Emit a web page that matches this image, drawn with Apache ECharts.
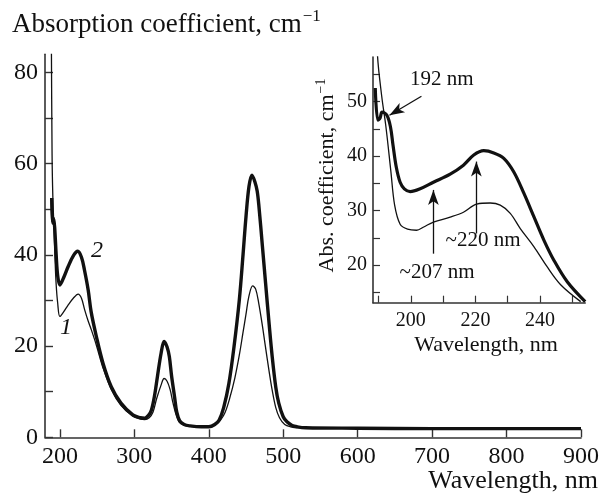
<!DOCTYPE html>
<html><head><meta charset="utf-8">
<script src="https://cdn.jsdelivr.net/npm/echarts@6/dist/echarts.min.js"></script>
<style>html,body{margin:0;padding:0;background:#fff}#c{width:602px;height:494px}</style>
</head><body><div id="c"></div>
<script>
// ---- Main panel data (wavelength nm, absorption coefficient cm^-1) ----
const mainWl2 = [189,190,191.5,193,195,197,200,205,211,218,224,229,233,238,242,249,258,269,282,298,308,314,319,323,327,331,336,340,344,347,350,354,357,361,367,375,390,400,408,414,420,427,434,441,446,450,454,458,462,465,467.4,472,476.3,481,485.2,490,494,500,505,512,519,530,600,700,800,900];
const mainAbs2 = [52.5,47,48,46,40,35.5,33.4,35,37.4,39.8,40.8,39.5,36.7,32.3,27.5,22.1,16.2,11.1,7.5,4.9,4.3,4.2,4.8,6.0,9,13.3,18.5,21.0,19.8,17.7,13.5,8.9,5.5,3.6,2.8,2.5,2.3,2.3,2.8,3.8,6.5,11.8,20,30.1,40,48.4,55,57.5,56,54,50.6,42,33.8,25,17.7,11,7.5,4.5,3.4,2.6,2.3,2.1,2.0,1.9,1.9,1.9];
const mainWl1 = [188.3,189.5,190.5,192,193.5,195,197,200,205,211,218,224.5,229,233.4,238,242.4,249,258,269,282,298,308,314,320,325,330,336,340,344,348,352,356,360,367,375,400,410,416,422,428,435,441,446,450,454,459,463,467,472,476,481,485,490,495,502,510,520,600,700,800,900];
const mainAbs1 = [95,62,53,46,39,33.5,29.5,26.5,27.5,29,30.5,31.4,30.5,27.9,25.5,23.5,20.2,15.2,10.5,7.0,4.6,4.0,3.9,4.3,5.5,8.5,11.5,12.9,12.3,10.5,7.5,5,3.4,2.6,2.4,2.2,2.8,3.8,5.5,8.5,13,18,23,27,31,33.2,32.5,29.5,24.5,20,14.5,10.5,6.5,4.3,2.8,2.3,2.1,2.0,1.9,1.9,1.9];
const mainXTicks = [200,300,400,500,600,700,800,900];
const mainYTicks = [0,10,20,30,40,50,60,70,80];
const mainYLabels = [0,20,40,60,80];

// ---- Inset data ----
const insetWl2 = [189,189.8,190.5,191.1,192.6,193.7,194.5,195.5,196.7,198,199.8,202.9,207,212.2,216.3,219.5,222.6,225.7,228.8,231.9,235,238.1,241.2,244.3,248.5,254];
const insetAbs2 = [52.5,46.6,47.0,48.1,47.5,45.4,42,38,35.2,34,33.5,34,35.2,36.7,38.35,40.2,41,40.6,39.6,37.1,33.2,28.9,24.6,20.9,16.9,13.3];
const insetWl1 = [188.6,189.7,191,192.3,193.8,195,196.7,199,201.8,204,207,212.2,216.3,220.4,224.6,227.7,230.8,233.9,238.1,242.2,246.4,252.6];
const insetAbs1 = [75,58.4,51,45.4,37.4,31,27.5,26.6,26.4,27,27.9,28.8,29.7,31.2,31.4,31,29.5,26.7,23.4,19.7,16.4,13.3];
const insetXTicks = [190,200,210,220,230,240,250];
const insetXLabels = [200,220,240];
const insetYTicks = [15,20,25,30,35,40,45,50,55];
const insetYLabels = [20,30,40,50];

// annotation arrows in inset data coords: [from, to]
const arrow192 = [[203.3,51.0],[193.4,47.5]];
const arrow207 = [[207.0,22.1],[207.0,33.8]];
const arrow220 = [[220.3,25.8],[220.3,39.0]];

const pairs = (xs, ys) => xs.map((x, i) => [x, ys[i]]);
const SERIF = 'Liberation Serif, Times New Roman, serif';
const INK = '#111';

const chart = echarts.init(document.getElementById('c'), null, {renderer: 'canvas'});

function axisCommon() {
  return {
    axisLine: {show: true, lineStyle: {color: '#333', width: 1.6}},
    splitLine: {show: false}
  };
}

const mc = document.createElement('canvas').getContext('2d');
function tw(text, size) { mc.font = size + 'px ' + SERIF; return mc.measureText(text).width; }

const titleFs = 27, supFs = 17;
const t1 = 'Absorption coefficient, cm';
const t1w = tw(t1, titleFs);
const insT = 'Abs. coefficient, cm';
const insFs = 22, insSup = 14;
const insTw = tw(insT, insFs), insSupW = tw('−1', insSup);
const insTot = insTw + insSupW;

const arrowLine = (pts) => [{coord: pts[0], symbol: 'none'}, {coord: pts[1], symbol: 'arrow', symbolSize: [8, 15]}];

const option = {
  animation: false,
  backgroundColor: '#fff',
  grid: [
    {left: 45, right: 18.4, top: 54.3, bottom: 56.7},
    {left: 373, right: 16.8, top: 57, bottom: 191.3}
  ],
  xAxis: [
    Object.assign(axisCommon(), {
      type: 'value', gridIndex: 0, min: 180, max: 900,
      axisTick: {show: true, inside: true, length: 8, lineStyle: {color: '#333', width: 1.4}, customValues: mainXTicks},
      axisLabel: {fontFamily: SERIF, fontSize: 24, color: INK, margin: 7, customValues: mainXTicks}
    }),
    Object.assign(axisCommon(), {
      type: 'value', gridIndex: 1, min: 188.3, max: 254,
      axisTick: {show: true, inside: true, length: 7, lineStyle: {color: '#333', width: 1.2}, customValues: insetXTicks},
      axisLabel: {fontFamily: SERIF, fontSize: 20, color: INK, margin: 8, customValues: insetXLabels}
    })
  ],
  yAxis: [
    Object.assign(axisCommon(), {
      type: 'value', gridIndex: 0, min: 0, max: 84,
      axisTick: {show: true, inside: true, length: 8, lineStyle: {color: '#333', width: 1.4}, customValues: mainYTicks},
      axisLabel: {fontFamily: SERIF, fontSize: 24, color: INK, margin: 7, customValues: mainYLabels}
    }),
    Object.assign(axisCommon(), {
      type: 'value', gridIndex: 1, min: 13.1, max: 58.2,
      axisTick: {show: true, inside: true, length: 7, lineStyle: {color: '#333', width: 1.2}, customValues: insetYTicks},
      axisLabel: {fontFamily: SERIF, fontSize: 20, color: INK, margin: 6, customValues: insetYLabels}
    })
  ],
  series: [
    {type: 'line', xAxisIndex: 0, yAxisIndex: 0, data: pairs(mainWl1, mainAbs1), showSymbol: false, smooth: 0.35,
     lineStyle: {color: INK, width: 1.3}, clip: true},
    {type: 'line', xAxisIndex: 0, yAxisIndex: 0, data: pairs(mainWl2, mainAbs2), showSymbol: false, smooth: 0.35,
     lineStyle: {color: INK, width: 3.4}, clip: true},
    {type: 'line', xAxisIndex: 1, yAxisIndex: 1, data: pairs(insetWl1, insetAbs1), showSymbol: false, smooth: 0.35,
     lineStyle: {color: INK, width: 1.3}, clip: true},
    {type: 'line', xAxisIndex: 1, yAxisIndex: 1, data: pairs(insetWl2, insetAbs2), showSymbol: false, smooth: 0.35,
     lineStyle: {color: INK, width: 3.2}, clip: true,
     markLine: {silent: true, animation: false, label: {show: false},
       lineStyle: {color: INK, width: 1.3, type: 'solid'},
       data: [arrowLine(arrow192), arrowLine(arrow207), arrowLine(arrow220)]}}
  ],
  graphic: [
    {type: 'text', x: 12, y: 25, style: {text: t1, font: titleFs + 'px ' + SERIF, fill: INK, textAlign: 'left', textVerticalAlign: 'middle'}},
    {type: 'text', x: 12 + t1w + 1, y: 17, style: {text: '−1', font: supFs + 'px ' + SERIF, fill: INK, textAlign: 'left', textVerticalAlign: 'middle'}},
    {type: 'text', x: 598, y: 481, style: {text: 'Wavelength, nm', font: '26px ' + SERIF, fill: INK, textAlign: 'right', textVerticalAlign: 'middle'}},
    {type: 'text', x: 97, y: 251, style: {text: '2', font: 'italic 24px ' + SERIF, fill: INK, textAlign: 'center', textVerticalAlign: 'middle'}},
    {type: 'text', x: 66, y: 328, style: {text: '1', font: 'italic 24px ' + SERIF, fill: INK, textAlign: 'center', textVerticalAlign: 'middle'}},
    {type: 'text', x: 486, y: 345, style: {text: 'Wavelength, nm', font: '22px ' + SERIF, fill: INK, textAlign: 'center', textVerticalAlign: 'middle'}},
    {type: 'group', x: 327, y: 176, rotation: Math.PI / 2, children: [
      {type: 'text', x: -insTot / 2, y: 0, style: {text: insT, font: insFs + 'px ' + SERIF, fill: INK, textAlign: 'left', textVerticalAlign: 'middle'}},
      {type: 'text', x: -insTot / 2 + insTw + 1, y: -6, style: {text: '−1', font: insSup + 'px ' + SERIF, fill: INK, textAlign: 'left', textVerticalAlign: 'middle'}}
    ]},
    {type: 'text', x: 410, y: 79, style: {text: '192 nm', font: '21px ' + SERIF, fill: INK, textAlign: 'left', textVerticalAlign: 'middle'}},
    {type: 'text', x: 483, y: 240, style: {text: '~220 nm', font: '21px ' + SERIF, fill: INK, textAlign: 'center', textVerticalAlign: 'middle'}},
    {type: 'text', x: 437, y: 272, style: {text: '~207 nm', font: '21px ' + SERIF, fill: INK, textAlign: 'center', textVerticalAlign: 'middle'}}
  ]
};
chart.setOption(option);
</script>
</body></html>
